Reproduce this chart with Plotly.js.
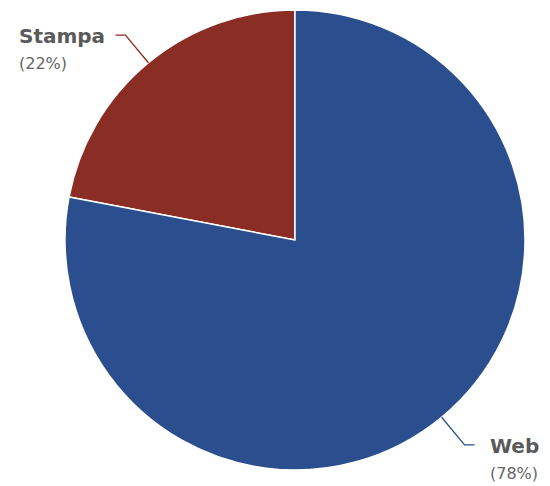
<!DOCTYPE html>
<html>
<head>
<meta charset="utf-8">
<script src="https://cdn.plot.ly/plotly-3.0.1.min.js"></script>
<style>html,body{margin:0;padding:0;background:#fff;}#chart{width:550px;height:486px;}</style>
</head>
<body>
<div id="chart"></div>
<script>
const categories = ["Stampa", "Web"];
const values = [22, 78];
const sliceColors = ["#8a2d24", "#2b4f8e"];

const W = 550, H = 486;
const cx = 295, cy = 240, R = 230;
const total = values.reduce((a, b) => a + b, 0);

const data = [{
  type: "pie",
  labels: categories,
  values: values,
  sort: false,
  direction: "clockwise",
  rotation: -values[0] / total * 360,
  textinfo: "none",
  hoverinfo: "label+percent",
  marker: { colors: sliceColors, line: { color: "#ffffff", width: 1.5 } },
  domain: { x: [(cx - R) / W, (cx + R) / W], y: [1 - (cy + R) / H, 1 - (cy - R) / H] },
  showlegend: false
}];

const shapes = [], annotations = [];
let cum = 0;
const px = x => x / W, py = y => 1 - y / H;
values.forEach((v, i) => {
  const mid = (cum + v / 2) / total * 2 * Math.PI;
  cum += v;
  const dx = -Math.sin(mid), dy = -Math.cos(mid);
  const x0 = cx + dx * R, y0 = cy + dy * R;
  const x1 = cx + dx * (R + 36), y1 = cy + dy * (R + 36);
  const side = dx < 0 ? -1 : 1;
  const x2 = x1 + side * 10;
  shapes.push({
    type: "path", xref: "paper", yref: "paper",
    path: `M${px(x0)},${py(y0)} L${px(x1)},${py(y1)} L${px(x2)},${py(y1)}`,
    line: { color: sliceColors[i], width: 1.3 }
  });
  const pct = Math.round(v / total * 100);
  annotations.push({
    xref: "paper", yref: "paper",
    x: px(x2 + side * (side < 0 ? 8 : 13)), y: py(y1 - 13),
    xanchor: side < 0 ? "right" : "left", yanchor: "top",
    align: "left", showarrow: false,
    text: `<b><span style="font-size:20px">${categories[i]}</span></b><br><span style="font-size:16px;color:#666">(${pct}%)</span>`,
    font: { family: "DejaVu Sans, sans-serif", size: 20, color: "#5a5a5a" }
  });
});

const layout = {
  width: W, height: H,
  margin: { l: 0, r: 0, t: 0, b: 0 },
  paper_bgcolor: "#ffffff",
  shapes: shapes,
  annotations: annotations
};
Plotly.newPlot("chart", data, layout, { displayModeBar: false, staticPlot: true });
</script>
</body>
</html>
